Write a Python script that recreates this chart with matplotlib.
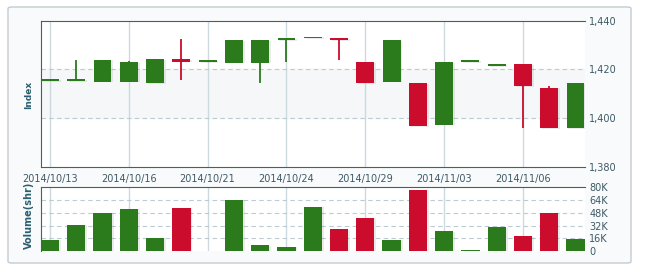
import matplotlib
matplotlib.use("Agg")
import matplotlib.pyplot as plt
from matplotlib.patches import FancyBboxPatch
from matplotlib.ticker import FuncFormatter

# daily index candles
dates = ['2014/10/13', '2014/10/14', '2014/10/15', '2014/10/16', '2014/10/17',
         '2014/10/20', '2014/10/21', '2014/10/22', '2014/10/23', '2014/10/24',
         '2014/10/27', '2014/10/28', '2014/10/29', '2014/10/30', '2014/10/31',
         '2014/11/03', '2014/11/04', '2014/11/05', '2014/11/06', '2014/11/07',
         '2014/11/10']
opens = [1415.3, 1415.3, 1415.0, 1415.0, 1414.4, 1424.1, 1423.0, 1422.8, 1422.8, 1432.1,
         1432.8, 1433.0, 1423.1, 1415.0, 1414.5, 1397.3, 1423.1, 1421.2, 1422.3, 1412.5,
         1395.7]
highs = [1415.3, 1424.0, 1424.0, 1423.5, 1424.3, 1432.5, 1423.0, 1432.1, 1432.1, 1433.0,
         1432.8, 1433.0, 1423.1, 1432.1, 1414.5, 1423.1, 1423.1, 1422.3, 1422.3, 1413.3,
         1414.5]
lows = [1415.3, 1415.3, 1415.0, 1415.0, 1414.4, 1415.5, 1423.0, 1422.8, 1414.4, 1423.0,
        1432.8, 1424.0, 1414.2, 1415.0, 1396.6, 1397.0, 1423.1, 1421.2, 1396.0, 1395.7,
        1395.7]
closes = [1415.3, 1415.3, 1424.0, 1423.1, 1424.3, 1423.2, 1423.0, 1432.1, 1432.1, 1433.0,
          1432.8, 1432.1, 1414.2, 1432.1, 1396.6, 1423.1, 1423.1, 1422.3, 1413.0, 1395.7,
          1414.5]
volumes = [13800, 33000, 48000, 52800, 16300, 54400, 600, 64500, 7500, 5000,
           55700, 27600, 41900, 13800, 76600, 25000, 1200, 30000, 18800, 48000,
           15500]

price_ticks = [1380, 1400, 1420, 1440]
vol_ticks = [0, 16000, 32000, 48000, 64000, 80000]
label_idx = [0, 3, 6, 9, 12, 15, 18]

GREEN = '#2b7a1b'
RED = '#cc0c2c'
TXT = '#3d5a66'
LBL = '#2a5e6e'
SPINE = '#4f5d63'
VGRID = '#ccdae0'
HGRID = '#bccbd2'

W, H = 650, 279
fig = plt.figure(figsize=(W / 100, H / 100), dpi=100)
fig.patch.set_facecolor('white')

# outer panel, drawn behind the axes
frame = FancyBboxPatch((8 / W, 1 - 263 / H), 623 / W, 256 / H,
                       boxstyle='round,pad=0,rounding_size=0.006',
                       transform=fig.transFigure, facecolor='#f8fafb',
                       edgecolor='#c3cbcf', linewidth=1.0, zorder=-5)
fig.add_artist(frame)

x0 = 41 / W
w = (585 - 41) / W
ax = fig.add_axes([x0, 1 - 166.7 / H, w, (166.7 - 20.7) / H])
axv = fig.add_axes([x0, 1 - 251 / H, w, (251 - 187.3) / H])

xs = list(range(len(dates)))
colors = [GREEN if c >= o else RED for o, c in zip(opens, closes)]

for a in (ax, axv):
    a.set_zorder(2)
    a.set_facecolor('white')
    a.set_xlim(-0.34, 20.36)
    for i in label_idx:
        a.axvline(i, color=VGRID, lw=1.0, zorder=1)
    a.spines['right'].set_visible(False)
    a.spines['top'].set_color(SPINE)
    a.spines['left'].set_color(SPINE)
    a.yaxis.tick_right()
    a.tick_params(axis='y', length=0, pad=3, labelsize=7, labelcolor=TXT)

# price panel
ax.set_ylim(1380, 1440)
ax.axhspan(1400, 1420, color='#f5f7f9', zorder=0)
for t in (1400, 1420):
    ax.axhline(t, color=HGRID, lw=0.8, ls=(0, (4, 3)), zorder=1)
ax.spines['bottom'].set_color(SPINE)
ax.set_yticks(price_ticks)
ax.yaxis.set_major_formatter(FuncFormatter(lambda v, p: '{:,.0f}'.format(v)))
ax.set_xticks(label_idx)
ax.set_xticklabels([dates[i] for i in label_idx])
ax.tick_params(axis='x', length=0, pad=5, labelsize=7, labelcolor=TXT)

bottoms = [min(o, c) for o, c in zip(opens, closes)]
heights = [max(abs(c - o), 0.65) for o, c in zip(opens, closes)]
ax.vlines(xs, lows, highs, colors=colors, lw=1.3, zorder=3)
ax.bar([x + 0.07 for x in xs], heights, bottom=[b - 0.35 for b in bottoms], width=0.68,
       color='#000000', alpha=0.08, zorder=2)
ax.bar(xs, heights, bottom=bottoms, width=0.68, color=colors, zorder=4)

# volume panel
axv.set_ylim(0, 80000)
for t in vol_ticks[1:-1]:
    axv.axhline(t, color=HGRID, lw=0.8, ls=(0, (4, 3)), zorder=1)
axv.spines['bottom'].set_visible(False)
axv.set_yticks(vol_ticks)
axv.yaxis.set_major_formatter(FuncFormatter(lambda v, p: '0' if v == 0 else '{:.0f}K'.format(v / 1000)))
axv.set_xticks([])
axv.bar([x + 0.07 for x in xs], volumes, width=0.7, bottom=-600, color='#000000',
        alpha=0.08, zorder=2)
axv.bar(xs, volumes, width=0.7, color=colors, zorder=3)

fig.text(29 / W, 1 - 95 / H, 'Index', rotation=90, ha='center', va='center',
         fontsize=6.5, fontweight='bold', color=LBL)
fig.text(29 / W, 1 - 215 / H, 'Volume(shr)', rotation=90, ha='center', va='center',
         fontsize=7, fontweight='bold', color=LBL)

fig.savefig('out.png', dpi=100, facecolor=fig.get_facecolor())
